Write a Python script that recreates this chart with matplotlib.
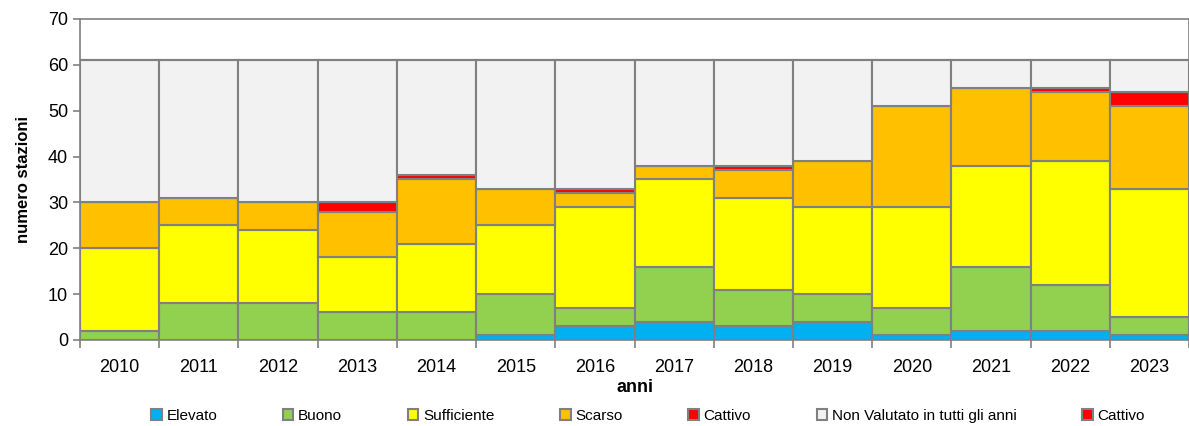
import numpy as np
import matplotlib.pyplot as plt

plt.rcParams['font.family'] = ['Liberation Sans', 'DejaVu Sans']

# Stations per ecological status class, per year
anni = ['2010', '2011', '2012', '2013', '2014', '2015', '2016',
        '2017', '2018', '2019', '2020', '2021', '2022', '2023']
elevato = [0, 0, 0, 0, 0, 1, 3, 4, 3, 4, 1, 2, 2, 1]
buono = [2, 8, 8, 6, 6, 9, 4, 12, 8, 6, 6, 14, 10, 4]
sufficiente = [18, 17, 16, 12, 15, 15, 22, 19, 20, 19, 22, 22, 27, 28]
scarso = [10, 6, 6, 10, 14, 8, 3, 3, 6, 10, 22, 17, 15, 18]
cattivo = [0, 0, 0, 2, 1, 0, 1, 0, 1, 0, 0, 0, 1, 3]
non_valutato = [31, 30, 31, 31, 25, 28, 28, 23, 23, 22, 10, 6, 6, 7]
cattivo_2 = [0] * 14

series = [
    ('Elevato', elevato, '#00b0f0'),
    ('Buono', buono, '#92d050'),
    ('Sufficiente', sufficiente, '#ffff00'),
    ('Scarso', scarso, '#ffc000'),
    ('Cattivo', cattivo, '#ff0000'),
    ('Non Valutato in tutti gli anni', non_valutato, '#f2f2f2'),
    ('Cattivo', cattivo_2, '#ff0000'),
]

fig = plt.figure(figsize=(11.89, 4.26), dpi=100)
ax = fig.add_axes([0.0673, 0.2019, 0.9327, 0.7535])

x = np.arange(len(anni))
bottom = np.zeros(len(anni))
handles = []
for name, vals, col in series:
    vals = np.array(vals, dtype=float)
    b = ax.bar(x, vals, width=1.0, bottom=bottom, color=col,
               edgecolor='#808080', linewidth=1.5, label=name)
    handles.append(b)
    bottom += vals

ax.set_xlim(-0.5, len(anni) - 0.5)
ax.set_ylim(0, 70)
ax.set_yticks(np.arange(0, 71, 10))
ax.set_xticks(x)
ax.set_xticklabels(anni)
ax.set_xticks(np.arange(-0.5, len(anni), 1.0), minor=True)
ax.tick_params(axis='x', which='major', length=0, pad=14, labelsize=13)
ax.tick_params(axis='x', which='minor', length=6, color='#808080', width=1.2)
ax.tick_params(axis='y', length=5, color='#808080', width=1.2, labelsize=13)
for s in ax.spines.values():
    s.set_color('#808080')
    s.set_linewidth(1.2)

ax.set_xlabel('anni', fontsize=13, fontweight='bold', labelpad=2)
ax.set_ylabel('numero stazioni', fontsize=12, fontweight='bold', labelpad=12)

fig.legend(handles=handles, loc='lower center', bbox_to_anchor=(0.545, -0.025),
           ncol=7, frameon=False, fontsize=11, handlelength=0.7,
           handleheight=0.7, handletextpad=0.3, columnspacing=4.3)

fig.savefig('out.png', dpi=100)
